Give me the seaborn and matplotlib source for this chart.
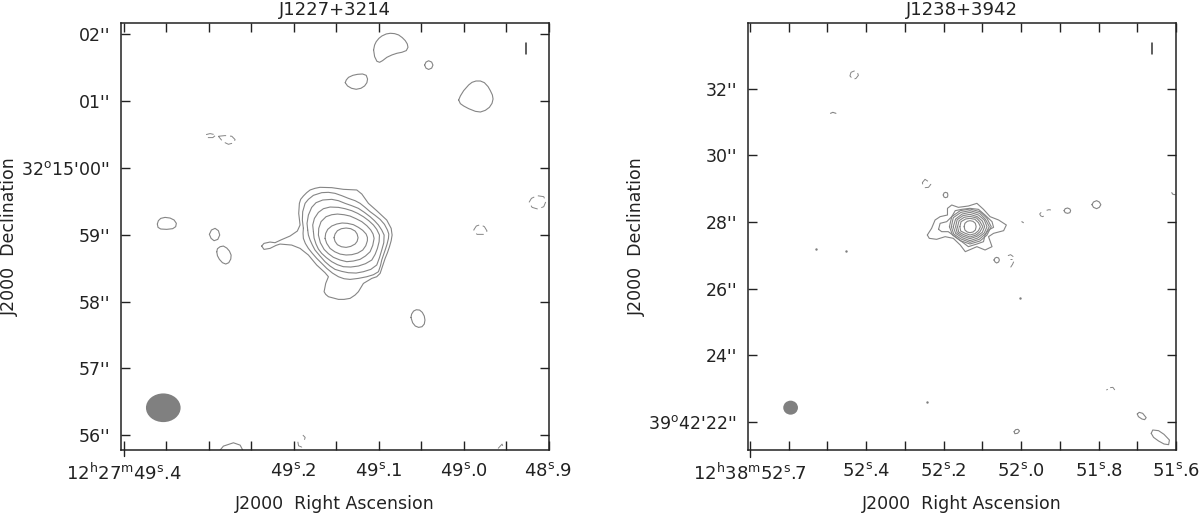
import matplotlib
matplotlib.use('Agg')
import matplotlib.pyplot as plt
from matplotlib.patches import Ellipse
import pandas as pd
import seaborn as sns

l_core_1 = [(49.1526, -1.043), (49.1514, -.988), (49.1486, -.938), (49.1439, -.908), (49.1384, -.898),
            (49.1329, -.908), (49.1278, -.943), (49.1254, -.988), (49.1243, -1.043), (49.1254, -1.098),
            (49.1278, -1.138), (49.1329, -1.173), (49.1384, -1.188), (49.1439, -1.178), (49.1486, -1.148),
            (49.1514, -1.098)]
l_core_2 = [(49.1632, -1.053), (49.1624, -.978), (49.1600, -.918), (49.1553, -.868), (49.1494, -.838),
            (49.1431, -.823), (49.1368, -.828), (49.1298, -.848), (49.1239, -.888), (49.1188, -.933),
            (49.1148, -.988), (49.1133, -1.038), (49.1133, -1.088), (49.1152, -1.163), (49.1188, -1.228),
            (49.1247, -1.273), (49.1317, -1.297), (49.1384, -1.302), (49.1455, -1.288), (49.1518, -1.253),
            (49.1573, -1.203), (49.1612, -1.128)]
l_core_3 = [(49.1710, -1.003), (49.1706, -.903), (49.1679, -.803), (49.1620, -.729), (49.1553, -.699),
            (49.1486, -.689), (49.1408, -.699), (49.1337, -.719), (49.1266, -.759), (49.1199, -.803),
            (49.1140, -.863), (49.1093, -.928), (49.1066, -.988), (49.1054, -1.053), (49.1070, -1.158),
            (49.1101, -1.253), (49.1156, -1.317), (49.1219, -1.367), (49.1298, -1.392), (49.1376, -1.402),
            (49.1455, -1.377), (49.1533, -1.337), (49.1592, -1.282), (49.1643, -1.218), (49.1687, -1.118)]
l_core_4 = [(49.1769, -.953), (49.1777, -.853), (49.1757, -.754), (49.1710, -.664), (49.1651, -.609),
            (49.1573, -.584), (49.1474, -.589), (49.1396, -.609), (49.1317, -.639), (49.1247, -.679),
            (49.1180, -.729), (49.1117, -.788), (49.1062, -.853), (49.1023, -.918), (49.0991, -1.003),
            (49.0995, -1.103), (49.1015, -1.203), (49.1042, -1.292), (49.1081, -1.377), (49.1156, -1.432),
            (49.1239, -1.467), (49.1329, -1.482), (49.1416, -1.477), (49.1486, -1.447), (49.1553, -1.402),
            (49.1616, -1.342), (49.1671, -1.278), (49.1710, -1.213), (49.1738, -1.138), (49.1761, -1.048)]
l_core_5 = [(49.1836, -.928), (49.1844, -.828), (49.1828, -.704), (49.1789, -.589), (49.1738, -.519),
            (49.1659, -.479), (49.1553, -.469), (49.1474, -.489), (49.1396, -.529), (49.1317, -.564),
            (49.1239, -.604), (49.1168, -.664), (49.1101, -.729), (49.1050, -.788), (49.1003, -.853),
            (49.0964, -.928), (49.0936, -1.003), (49.0940, -1.118), (49.0964, -1.228), (49.0991, -1.342),
            (49.1023, -1.452), (49.1093, -1.517), (49.1180, -1.552), (49.1266, -1.572), (49.1357, -1.567),
            (49.1435, -1.547), (49.1514, -1.517), (49.1573, -1.467), (49.1632, -1.402), (49.1691, -1.317),
            (49.1750, -1.228), (49.1781, -1.153), (49.1808, -1.078), (49.1828, -1.003)]
l_core_6 = [(49.1887, -.903), (49.1899, -.779), (49.1895, -.654), (49.1867, -.529), (49.1828, -.469),
            (49.1769, -.409), (49.1671, -.369), (49.1592, -.364), (49.1514, -.379), (49.1435, -.414),
            (49.1357, -.454), (49.1278, -.489), (49.1219, -.529), (49.1160, -.589), (49.1101, -.654),
            (49.1042, -.709), (49.0983, -.769), (49.0932, -.843), (49.0897, -.928), (49.0881, -.988),
            (49.0885, -1.053), (49.0901, -1.138), (49.0924, -1.228), (49.0944, -1.302), (49.0964, -1.377),
            (49.0979, -1.462), (49.1003, -1.552), (49.1062, -1.597), (49.1140, -1.627), (49.1239, -1.652),
            (49.1337, -1.667), (49.1408, -1.657), (49.1474, -1.627), (49.1545, -1.572), (49.1612, -1.502),
            (49.1671, -1.427), (49.1730, -1.352), (49.1781, -1.278), (49.1828, -1.203), (49.1864, -1.128),
            (49.1887, -1.053), (49.1891, -.978)]
l_core_7 = [(49.2378, -1.168), (49.2351, -1.128), (49.2280, -1.108), (49.2221, -1.118), (49.2154, -1.078),
            (49.2044, -1.018), (49.1958, -.943), (49.1926, -.853), (49.1942, -.679), (49.1934, -.529),
            (49.1919, -.469), (49.1887, -.419), (49.1848, -.369), (49.1808, -.329), (49.1750, -.304),
            (49.1691, -.289), (49.1553, -.294), (49.1416, -.319), (49.1258, -.329), (49.1199, -.389),
            (49.1121, -.529), (49.1023, -.639), (49.0905, -.779), (49.0853, -.903), (49.0842, -1.003),
            (49.0853, -1.088), (49.0873, -1.178), (49.0897, -1.268), (49.0924, -1.352), (49.0983, -1.577),
            (49.1023, -1.627), (49.1081, -1.652), (49.1180, -1.727), (49.1239, -1.851), (49.1278, -1.901),
            (49.1337, -1.951), (49.1408, -1.966), (49.1474, -1.966), (49.1592, -1.926), (49.1624, -1.891),
            (49.1643, -1.851), (49.1624, -1.727), (49.1592, -1.627), (49.1632, -1.567), (49.1730, -1.452),
            (49.1828, -1.302), (49.1926, -1.203), (49.2025, -1.153), (49.2162, -1.138), (49.2209, -1.158),
            (49.2280, -1.203), (49.2351, -1.218)]
l_isle_top = [(49.1060, 1.767), (49.1048, 1.841), (49.1029, 1.891), (49.0997, 1.941), (49.0962, 1.976),
              (49.0911, 2.006), (49.0864, 2.016), (49.0813, 2.011), (49.0765, 1.991), (49.0722, 1.951),
              (49.0687, 1.906), (49.0663, 1.856), (49.0655, 1.806), (49.0675, 1.757), (49.0726, 1.732),
              (49.0785, 1.717), (49.0844, 1.692), (49.0903, 1.657), (49.0954, 1.607), (49.0989, 1.582),
              (49.1021, 1.597), (49.1048, 1.667)]
l_isle_dot = [(49.0459, 1.540), (49.0443, 1.585), (49.0412, 1.605), (49.0376, 1.585), (49.0361, 1.540),
              (49.0376, 1.495), (49.0412, 1.475), (49.0443, 1.495)]
l_isle_mid = [(49.1394, 1.277), (49.1382, 1.317), (49.1355, 1.357), (49.1304, 1.387), (49.1249, 1.402),
              (49.1190, 1.407), (49.1147, 1.387), (49.1131, 1.332), (49.1139, 1.277), (49.1166, 1.228),
              (49.1209, 1.193), (49.1265, 1.178), (49.1320, 1.193), (49.1367, 1.228)]
l_isle_right = [(49.0058, 1.018), (49.0038, 1.078), (48.9999, 1.158), (48.9940, 1.243), (48.9901, 1.282),
                (48.9854, 1.302), (48.9802, 1.302), (48.9755, 1.277), (48.9712, 1.218), (48.9685, 1.158),
                (48.9661, 1.093), (48.9653, 1.033), (48.9665, .968), (48.9696, .908), (48.9744, .863),
                (48.9802, .838), (48.9861, .848), (48.9940, .888), (48.9999, .928), (49.0038, .963)]
l_isle_west = [(49.3607, -.838), (49.3595, -.789), (49.3567, -.754), (49.3516, -.739), (49.3457, -.749),
               (49.3410, -.778), (49.3383, -.828), (49.3391, -.878), (49.3426, -.908), (49.3497, -.918),
               (49.3567, -.913), (49.3599, -.888)]
l_isle_a = [(49.2994, -.993), (49.2970, -.928), (49.2927, -.903), (49.2888, -.938), (49.2872, -1.003),
            (49.2895, -1.068), (49.2939, -1.088), (49.2974, -1.053)]
l_isle_b = [(49.2907, -1.253), (49.2899, -1.208), (49.2868, -1.178), (49.2829, -1.168), (49.2789, -1.198),
            (49.2758, -1.243), (49.2738, -1.303), (49.2742, -1.362), (49.2766, -1.417), (49.2801, -1.437),
            (49.2840, -1.417), (49.2876, -1.367), (49.2899, -1.313)]
l_isle_low = [(49.0620, -2.236), (49.0612, -2.186), (49.0589, -2.141), (49.0557, -2.121), (49.0518, -2.126),
              (49.0486, -2.161), (49.0463, -2.216), (49.0455, -2.276), (49.0463, -2.335), (49.0490, -2.375),
              (49.0530, -2.385), (49.0569, -2.365), (49.0600, -2.316)]
l_edge_arc = [(49.2868, -4.222), (49.2829, -4.162), (49.2711, -4.112), (49.2632, -4.147), (49.2601, -4.222)]

# negative contours of the left map
l_neg_a = [(49.3033, .500), (49.2986, .515), (49.2915, .495), (49.2954, .455), (49.3017, .455)]
l_neg_b = [(49.2888, .475), (49.2809, .485), (49.2730, .475), (49.2691, .425), (49.2711, .375),
           (49.2770, .355), (49.2836, .395)]
l_neg_c = [(48.9229, -.514), (48.9201, -.454), (48.9134, -.414), (48.9056, -.429), (48.9032, -.504),
           (48.9056, -.579), (48.9127, -.614), (48.9193, -.589)]
l_neg_d = [(48.9881, -.928), (48.9850, -.868), (48.9802, -.848), (48.9755, -.878), (48.9724, -.943),
           (48.9763, -.993), (48.9842, -.993)]
l_neg_e = [(49.1893, -3.997), (49.1866, -4.032), (49.1874, -4.067)]
l_neg_f = [(49.1952, -4.097), (49.1944, -4.157), (49.1905, -4.177), (49.1874, -4.147)]
l_neg_g = [(48.9594, -4.197), (48.9547, -4.132), (48.9527, -4.197)]

# right map, J1238+3942: (RA seconds, Dec arcsec from 39:42:00)
r_ring_1 = [(52.147, 27.86), (52.145, 27.96), (52.139, 28.02), (52.132, 28.04), (52.124, 28.02), (52.118, 27.96),
            (52.116, 27.86), (52.118, 27.76), (52.124, 27.70), (52.132, 27.68), (52.139, 27.70), (52.145, 27.76)]
r_ring_2 = [(52.158, 27.86), (52.155, 28.01), (52.143, 28.09), (52.132, 28.11), (52.119, 28.08), (52.110, 27.98),
            (52.105, 27.86), (52.110, 27.74), (52.119, 27.65), (52.132, 27.61), (52.144, 27.66), (52.156, 27.73)]
r_ring_3 = [(52.164, 27.86), (52.160, 28.04), (52.147, 28.14), (52.132, 28.17), (52.115, 28.12), (52.106, 28.01),
            (52.099, 27.86), (52.106, 27.71), (52.116, 27.61), (52.132, 27.55), (52.148, 27.62), (52.161, 27.70)]
r_ring_4 = [(52.169, 27.86), (52.165, 28.07), (52.150, 28.19), (52.132, 28.23), (52.113, 28.16), (52.100, 28.03),
            (52.094, 27.86), (52.100, 27.69), (52.114, 27.57), (52.132, 27.50), (52.151, 27.58), (52.165, 27.68)]
r_ring_5 = [(52.175, 27.86), (52.169, 28.09), (52.152, 28.24), (52.132, 28.29), (52.110, 28.21), (52.095, 28.06),
            (52.088, 27.86), (52.095, 27.67), (52.112, 27.52), (52.132, 27.44), (52.152, 27.53), (52.169, 27.66)]
r_ring_6 = [(52.180, 27.86), (52.175, 28.13), (52.155, 28.29), (52.132, 28.34), (52.107, 28.26), (52.092, 28.08),
            (52.082, 27.86), (52.092, 27.64), (52.108, 27.48), (52.132, 27.39), (52.155, 27.49), (52.174, 27.64)]
r_ring_7 = [(52.185, 27.86), (52.179, 28.16), (52.157, 28.34), (52.132, 28.39), (52.106, 28.31), (52.088, 28.11),
            (52.077, 27.86), (52.088, 27.61), (52.106, 27.43), (52.132, 27.34), (52.157, 27.44), (52.177, 27.61)]
r_lobe_in = [(52.213, 27.78), (52.209, 27.96), (52.192, 28.01), (52.179, 28.16), (52.170, 28.34), (52.153, 28.38),
             (52.132, 28.41), (52.110, 28.38), (52.093, 28.21), (52.075, 28.01), (52.071, 27.84), (52.084, 27.76),
             (52.093, 27.61), (52.097, 27.41), (52.114, 27.34), (52.136, 27.26), (52.153, 27.41), (52.170, 27.56),
             (52.188, 27.71), (52.205, 27.71)]
r_lobe_out = [(52.242, 27.61), (52.231, 27.81), (52.222, 28.06), (52.209, 28.16), (52.190, 28.21), (52.190, 28.41),
              (52.179, 28.51), (52.162, 28.44), (52.136, 28.48), (52.114, 28.56), (52.097, 28.38), (52.080, 28.16),
              (52.058, 28.06), (52.038, 27.91), (52.045, 27.74), (52.071, 27.66), (52.084, 27.56), (52.075, 27.26),
              (52.093, 27.16), (52.114, 27.26), (52.144, 27.11), (52.157, 27.31), (52.175, 27.51), (52.196, 27.56),
              (52.218, 27.48), (52.237, 27.51)]
r_isle_a = [(52.201, 28.81), (52.199, 28.87), (52.195, 28.89), (52.190, 28.87), (52.189, 28.81), (52.190, 28.75),
            (52.195, 28.73), (52.199, 28.75)]
r_isle_b = [(51.889, 28.34), (51.886, 28.40), (51.880, 28.42), (51.874, 28.39), (51.872, 28.34), (51.874, 28.28),
            (51.880, 28.26), (51.886, 28.28)]
r_isle_c = [(51.817, 28.52), (51.813, 28.60), (51.805, 28.64), (51.798, 28.60), (51.794, 28.52), (51.798, 28.44),
            (51.805, 28.40), (51.813, 28.44)]
r_isle_d = [(52.070, 26.86), (52.067, 26.92), (52.063, 26.94), (52.058, 26.92), (52.056, 26.86), (52.058, 26.80),
            (52.063, 26.77), (52.067, 26.80)]
r_isle_e = [(51.700, 22.24), (51.695, 22.29), (51.686, 22.26), (51.677, 22.13), (51.681, 22.07), (51.688, 22.09),
            (51.697, 22.16)]
r_isle_f = [(52.018, 21.71), (52.014, 21.77), (52.008, 21.78), (52.004, 21.73), (52.009, 21.66), (52.016, 21.65)]
r_isle_g = [(51.664, 21.66), (51.660, 21.76), (51.645, 21.74), (51.631, 21.63), (51.617, 21.46), (51.619, 21.32),
            (51.631, 21.34), (51.645, 21.43), (51.658, 21.54)]

# negative contours of the right map
r_neg_a = [(52.442, 32.38), (52.439, 32.49), (52.431, 32.53), (52.423, 32.50), (52.420, 32.40), (52.426, 32.31),
           (52.433, 32.28)]
r_neg_b = [(52.255, 29.18), (52.248, 29.28), (52.239, 29.21), (52.233, 29.13), (52.239, 29.04), (52.248, 29.03),
           (52.254, 29.14)]
r_neg_c = [(51.948, 28.29), (51.952, 28.24), (51.949, 28.18), (51.944, 28.16), (51.939, 28.20)]
r_neg_d = [(51.934, 28.35), (51.928, 28.37), (51.923, 28.36)]
r_neg_e = [(52.034, 26.99), (52.027, 27.02), (52.020, 26.96)]
r_neg_f = [(52.029, 26.88), (52.023, 26.88)]
r_neg_g = [(52.019, 26.81), (52.022, 26.73), (52.027, 26.64)]
r_neg_h = [(51.780, 22.96), (51.776, 22.98)]
r_neg_i = [(51.770, 23.03), (51.763, 23.04), (51.758, 22.96)]

# short open pieces and single-pixel blips
r_arc_a = [(52.492, 31.26), (52.486, 31.29), (52.478, 31.26)]
r_arc_b = [(51.998, 28.01), (51.994, 27.98)]
r_arc_c = [(51.611, 28.88), (51.608, 28.83), (51.602, 28.82)]
r_dots_ra = [52.530, 52.452, 52.004, 52.244]
r_dots_dec = [27.18, 27.13, 25.73, 22.61]

# beam (RA, Dec, width in seconds, height in arcsec) and the scale bar
l_beam = (49.3537, -3.588, .0408, .429)
r_beam = (52.595, 22.43, .038, .42)
l_bar = [(48.927, 1.876), (48.927, 1.702)]
r_bar = [(51.662, 33.38), (51.662, 33.03)]
# first RA tick runs on below the frame
l_first_tick = [(49.4, -4.22), (49.4, -4.317)]
r_first_tick = [(52.7, 21.16), (52.7, 20.96)]

# axes ranges and ticks
l_xlim = (49.4035, 48.9)
l_ylim = (-4.22, 2.17)
r_xlim = (52.705, 51.6)
r_ylim = (21.16, 33.97)
l_xticks = [49.4, 49.35, 49.3, 49.25, 49.2, 49.15, 49.1, 49.05, 49.0, 48.95, 48.9]
l_xlabels = [r'$\mathregular{12^h27^m49^s}$.4', '', '', '', r'$\mathregular{49^s}$.2', '',
             r'$\mathregular{49^s}$.1', '', r'$\mathregular{49^s}$.0', '', r'$\mathregular{48^s}$.9']
l_yticks = [2, 1, 0, -1, -2, -3, -4]
l_ylabels = ["02''", "01''", r"32$\mathregular{^o}$15'00''", "59''", "58''", "57''", "56''"]
r_xticks = [52.7, 52.6, 52.5, 52.4, 52.3, 52.2, 52.1, 52.0, 51.9, 51.8, 51.7, 51.6]
r_xlabels = [r'$\mathregular{12^h38^m52^s}$.7', '', '', r'$\mathregular{52^s}$.4', '',
             r'$\mathregular{52^s}$.2', '', r'$\mathregular{52^s}$.0', '', r'$\mathregular{51^s}$.8', '',
             r'$\mathregular{51^s}$.6']
r_yticks = [32, 30, 28, 26, 24, 22]
r_ylabels = ["32''", "30''", "28''", "26''", "24''", r"39$\mathregular{^o}$42'22''"]

l_closed = [l_core_1, l_core_2, l_core_3, l_core_4, l_core_5, l_core_6, l_core_7, l_isle_top, l_isle_dot,
            l_isle_mid, l_isle_right, l_isle_west, l_isle_a, l_isle_b, l_isle_low]
l_open = [l_edge_arc]
l_neg_closed = [l_neg_a, l_neg_b, l_neg_c, l_neg_d]
l_neg_open = [l_neg_e, l_neg_f, l_neg_g]
r_closed = [r_ring_1, r_ring_2, r_ring_3, r_ring_4, r_ring_5, r_ring_6, r_ring_7, r_lobe_in, r_lobe_out,
            r_isle_a, r_isle_b, r_isle_c, r_isle_d, r_isle_e, r_isle_f, r_isle_g]
r_open = [r_arc_a, r_arc_b, r_arc_c]
r_neg_closed = [r_neg_a, r_neg_b]
r_neg_open = [r_neg_c, r_neg_d, r_neg_e, r_neg_f, r_neg_g, r_neg_h, r_neg_i]


def contour_table(closed, opened):
    rows = []
    for n, pts in enumerate(closed + opened):
        if n < len(closed):
            pts = pts + pts[:1]
        for ra, dec in pts:
            rows.append({'contour': n, 'ra': ra, 'dec': dec})
    return pd.DataFrame(rows)


def draw_map(ax, closed, opened, neg_closed, neg_open, beam, bar, first_tick):
    line_grey = '#858585'
    sns.lineplot(data=contour_table(closed, opened), x='ra', y='dec', units='contour', estimator=None,
                 sort=False, color=line_grey, linewidth=0.8, ax=ax)
    sns.lineplot(data=contour_table(neg_closed, neg_open), x='ra', y='dec', units='contour', estimator=None,
                 sort=False, color=line_grey, linewidth=0.7, linestyle=(0, (8, 4)), ax=ax)
    ax.add_patch(Ellipse(beam[:2], beam[2], beam[3], facecolor='#808080', edgecolor='none'))
    bar_df = pd.DataFrame(bar, columns=['ra', 'dec'])
    sns.lineplot(data=bar_df, x='ra', y='dec', estimator=None, sort=False, color='#333333', linewidth=1.1, ax=ax)
    tick_df = pd.DataFrame(first_tick, columns=['ra', 'dec'])
    sns.lineplot(data=tick_df, x='ra', y='dec', estimator=None, sort=False, color='#222222', linewidth=1.0,
                 clip_on=False, ax=ax)


def dress_axes(ax, title, xlim, ylim, xticks, xlabels, yticks, ylabels, ylabel_x):
    ax.set_xlim(xlim)
    ax.set_ylim(ylim)
    ax.set_xticks(xticks)
    ax.set_xticklabels(xlabels)
    ax.set_yticks(yticks)
    ax.set_yticklabels(ylabels)
    ax.tick_params(axis='both', direction='in', top=True, right=True, length=6.5, width=1.0,
                   color='#222222', labelcolor='#222222')
    ax.tick_params(axis='x', pad=9, labelsize=13)
    ax.tick_params(axis='y', pad=8, labelsize=12.5)
    ax.set_title(title, fontsize=13, color='#222222', pad=6)
    ax.set_xlabel('J2000  Right Ascension', fontsize=12.5, color='#222222', labelpad=8)
    ax.set_ylabel('J2000  Declination', fontsize=12.5, color='#222222', va='center')
    ax.yaxis.set_label_coords(ylabel_x, 0.5)
    for side in ax.spines.values():
        side.set_linewidth(1.1)
        side.set_color('#222222')


sns.set_theme(style='ticks')
plt.rcParams['font.family'] = ['DejaVu Sans']

fig = plt.figure(figsize=(12, 5.13), dpi=100)
ax1 = fig.add_axes([121 / 1200, 1 - 450 / 513, 427.5 / 1200, 427 / 513])
ax2 = fig.add_axes([748 / 1200, 1 - 450 / 513, 428 / 1200, 427 / 513])

draw_map(ax1, l_closed, l_open, l_neg_closed, l_neg_open, l_beam, l_bar, l_first_tick)
draw_map(ax2, r_closed, r_open, r_neg_closed, r_neg_open, r_beam, r_bar, r_first_tick)
sns.scatterplot(x=r_dots_ra, y=r_dots_dec, s=3, color='#7d7d7d', linewidth=0, ax=ax2)

dress_axes(ax1, 'J1227+3214', l_xlim, l_ylim, l_xticks, l_xlabels, l_yticks, l_ylabels, -0.261)
dress_axes(ax2, 'J1238+3942', r_xlim, r_ylim, r_xticks, r_xlabels, r_yticks, r_ylabels, -0.259)

fig.savefig('out.png', dpi=100)
